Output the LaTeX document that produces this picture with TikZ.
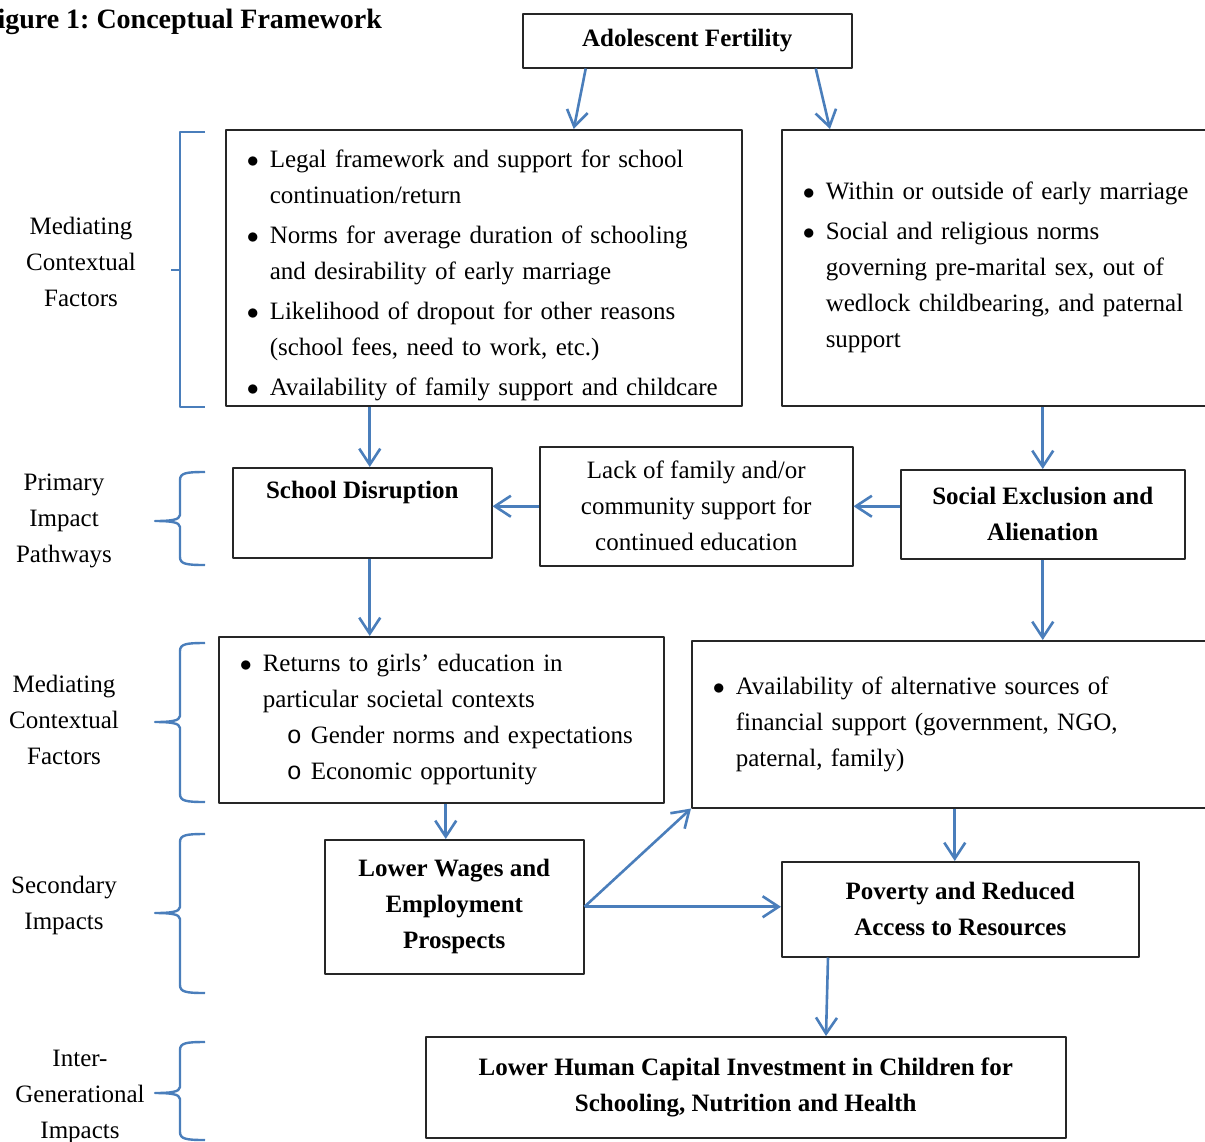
\documentclass[tikz,border=0pt]{standalone}
\usepackage{fontspec}
\setmainfont{Liberation Serif}
\newfontfamily\courfont{Liberation Mono}
\usepackage{tikz}
\usetikzlibrary{arrows.meta}
\definecolor{arrowblue}{RGB}{74,126,187}
\frenchspacing
\newcommand{\diagfont}{\fontsize{12.5}{18}\selectfont}
\newcommand{\bul}{\makebox[22pt][r]{$\bullet$\hspace{5.5pt}}}
\newcommand{\contind}{\hspace*{22pt}}
\newcommand{\subbul}{\hspace*{22pt}\makebox[24pt][r]{{\courfont o}\hspace{4.5pt}}}

\begin{document}
\begin{tikzpicture}[
            > = {Straight Barb[length=8pt, width=10.5pt]}, % open arrow head
            x = 0.5pt, y = -0.5pt, % one unit = one pixel, y going down
            line join = round
        ]

        \tikzstyle{box}=[draw = black!85, line width = 0.75pt, inner sep = 0pt, anchor = north west]
        \tikzstyle{bold box}=[box, font = \diagfont\bfseries, align = center]
        \tikzstyle{list box}=[box, font = \diagfont, align = left]
        \tikzstyle{side label}=[font = \diagfont, align = center]
        \tikzstyle{link}=[arrowblue, line width = 1.3pt]
        \tikzstyle{brace}=[arrowblue, line width = 1.2pt]

        \path[use as bounding box, clip] (0,0) rectangle (1205,1141);

        \node[font = \fontsize{14}{17}\selectfont\bfseries, anchor = base east] (title) at (389,28) {Figure 1: Conceptual Framework};

        % fertility
        \node[bold box, minimum width = 164.5pt, minimum height = 27pt] (AF) at (522,13) {Adolescent Fertility};

        % mediating contextual factors
        \node[list box, text width = 258pt, minimum height = 138pt] (L1) at (225,129) {%
            \bul\rule{0pt}{16pt}Legal framework and support for school\\
            \contind continuation/return\\[2pt]
            \bul Norms for average duration of schooling\\
            \contind and desirability of early marriage\\[2pt]
            \bul Likelihood of dropout for other reasons\\
            \contind (school fees, need to work, etc.)\\[2pt]
            \bul Availability of family support and childcare};
        \node[list box, text width = 240pt, minimum height = 138pt] (R1) at (781,129) {%
            \bul Within or outside of early marriage\\[2pt]
            \bul Social and religious norms\\
            \contind governing pre-marital sex, out of\\
            \contind wedlock childbearing, and paternal\\
            \contind support};

        \path[link, ->] ([xshift = -50.75pt]AF.south) edge ([xshift = 45pt]L1.north)
                        ([xshift = 64.25pt]AF.south) edge ([xshift = 24.5pt]R1.north west);

        % primary pathways
        \node[bold box, minimum width = 129.5pt, minimum height = 45pt] (SD) at (232,467) {School Disruption\\\strut};
        \node[box, font = \diagfont, align = center, minimum width = 156.5pt, minimum height = 59.5pt] (LK) at (539,446) {Lack of family and/or\\community support for\\continued education};
        \node[bold box, minimum width = 142pt, minimum height = 44.5pt] (SE) at (900,469) {Social Exclusion and\\Alienation};

        \path[link, ->] ([xshift = -57pt]L1.south) edge ([xshift = -57pt]L1.south |- SD.north)
                        (SE.north |- R1.south) edge (SE.north);
        \path[link, ->] (LK.west) edge (LK.west -| SD.east)
                        (LK.east -| SE.west) edge (LK.east);

        % mediating contextual factors
        \node[list box, text width = 222.5pt, minimum height = 83pt] (L2) at (218,636) {%
            \bul Returns to girls' education in\\
            \contind particular societal contexts\\
            \subbul Gender norms and expectations\\
            \subbul Economic opportunity};
        \node[list box, text width = 270pt, minimum height = 83.5pt] (R2) at (691,640) {%
            \bul Availability of alternative sources of\\
            \contind financial support (government, NGO,\\
            \contind paternal, family)};

        \path[link, ->] ([xshift = 3.75pt]SD.south) edge ([xshift = 3.75pt]SD.south |- L2.north)
                        (SE.south) edge (SE.south |- R2.north);

        % secondary impacts
        \node[bold box, minimum width = 129.5pt, minimum height = 67pt] (LW) at (324,839) {Lower Wages and\\Employment\\Prospects};
        \node[bold box, minimum width = 178.5pt, minimum height = 47.5pt] (PR) at (781,861) {Poverty and Reduced\\Access to Resources};

        \path[link, ->] ([xshift = 2.25pt]L2.south) edge ([xshift = 2.25pt]L2.south |- LW.north)
                        (LW.east) edge (R2.south west)
                        (LW.east) edge (LW.east -| PR.west)
                        ([xshift = -2.75pt]PR.north |- R2.south) edge ([xshift = -2.75pt]PR.north);

        % inter-generational impacts
        \node[bold box, minimum width = 320pt, minimum height = 50.5pt] (LH) at (425,1036) {Lower Human Capital Investment in Children for\\Schooling, Nutrition and Health};

        \path[link, ->] ([xshift = 23.5pt]PR.south west) edge ([xshift = 200.5pt]LH.north west);

        % side labels and braces
        \node[side label] (MCF1) at (81,262) {Mediating\\Contextual\\Factors};
        \node[side label] (PIP) at (64,521) {Primary\\Impact\\Pathways};
        \node[side label] (MCF2) at (64,720) {Mediating\\Contextual\\Factors};
        \node[side label] (SI) at (64,905) {Secondary\\Impacts};
        \node[side label] (IGI) at (80,1097) {Inter-\\Generational\\Impacts};

        \draw[brace] (205,132) -- (180,132) -- (180,407) -- (205,407)
                     (171,270) -- (180,270);
        \foreach \t/\m/\b in {472/521/565, 643/722/802, 834/913/993, 1042/1093/1140}
            \draw[brace] (205,\t) .. controls (186,\t) and (180,\t+1) .. (180,\t+8)
                         -- (180,\m-6) .. controls (180,\m-1) and (170,\m) .. (155,\m)
                         .. controls (170,\m) and (180,\m+1) .. (180,\m+6)
                         -- (180,\b-8) .. controls (180,\b-1) and (186,\b) .. (205,\b);

\end{tikzpicture}
\end{document}
